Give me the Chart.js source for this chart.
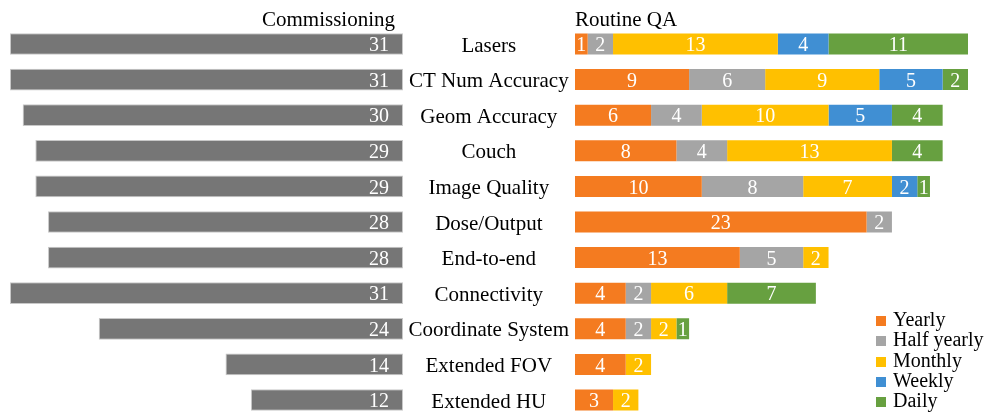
<!DOCTYPE HTML>
<html>

<head>
    <meta charset="UTF-8">
    <title>Commissioning vs Routine QA</title>
    <script src="https://cdn.jsdelivr.net/npm/chart.js"></script>
    <style>
        body { margin: 0; width: 985px; height: 412px; overflow: hidden; background: #fff; position: relative; }
        canvas { position: absolute; top: 0; }
        #leftChart { left: 0; }
        #rightChart { left: 403px; }
        #legend { position: absolute; left: 876px; top: 309px; font: 20px "Liberation Serif", serif; color: #000; }
        #legend div { height: 20.3px; line-height: 20.3px; white-space: nowrap; }
        #legend span { display: inline-block; width: 10px; height: 10px; margin-right: 7px; vertical-align: 0px; }
    </style>
</head>

<body>
    <canvas id="leftChart" width="410" height="450"></canvas>
    <canvas id="rightChart" width="582" height="450"></canvas>
    <div id="legend"></div>
    <script>
        const categories = ['Lasers', 'CT Num Accuracy', 'Geom Accuracy', 'Couch', 'Image Quality', 'Dose/Output',
            'End-to-end', 'Connectivity', 'Coordinate System', 'Extended FOV', 'Extended HU'];
        const commissioning = [31, 31, 30, 29, 29, 28, 28, 31, 24, 14, 12];
        const yearly     = [1, 9, 6, 8, 10, 23, 13, 4, 4, 4, 3];
        const halfYearly = [2, 6, 4, 4, 8, 2, 5, 2, 2, 0, 0];
        const monthly    = [13, 9, 10, 13, 7, 0, 2, 6, 2, 2, 2];
        const weekly     = [4, 5, 5, 0, 2, 0, 0, 0, 0, 0, 0];
        const daily      = [11, 2, 4, 4, 1, 0, 0, 7, 1, 0, 0];
        const maxCount = 31;

        Chart.defaults.font.family = '"Liberation Serif", serif';
        Chart.defaults.color = '#000';

        // white numbers inside the bars
        const valueLabels = {
            id: 'valueLabels',
            afterDatasetsDraw(chart, args, opts) {
                const ctx = chart.ctx;
                ctx.save();
                ctx.font = '20px "Liberation Serif", serif';
                ctx.fillStyle = '#fff';
                ctx.textBaseline = 'middle';
                chart.data.datasets.forEach((ds, i) => {
                    chart.getDatasetMeta(i).data.forEach((bar, j) => {
                        const v = ds.data[j];
                        if (!v) return;
                        if (opts.inset) {
                            ctx.textAlign = 'right';
                            ctx.fillText(v, bar.base - opts.inset, bar.y + 2);
                        } else {
                            ctx.textAlign = 'center';
                            ctx.fillText(v, (bar.x + bar.base) / 2, bar.y + 2);
                        }
                    });
                });
                ctx.restore();
            }
        };

        // panel heading above each half
        const panelTitle = {
            id: 'panelTitle',
            afterDraw(chart, args, opts) {
                const ctx = chart.ctx;
                const area = chart.chartArea;
                ctx.save();
                ctx.font = '21px "Liberation Serif", serif';
                ctx.fillStyle = '#000';
                ctx.textBaseline = 'middle';
                ctx.textAlign = opts.align;
                ctx.fillText(opts.text, opts.align === 'right' ? area.right + opts.dx : area.left + opts.dx, opts.y);
                ctx.restore();
            }
        };

        const leftChart = new Chart(document.getElementById('leftChart'), {
            type: 'bar',
            data: {
                labels: categories,
                datasets: [{
                    label: 'Commissioning',
                    data: commissioning,
                    backgroundColor: '#767676',
                    borderColor: '#c8c8c8',
                    borderWidth: 1,
                    borderSkipped: false,
                    barPercentage: 0.61,
                    categoryPercentage: 1
                }]
            },
            options: {
                indexAxis: 'y',
                responsive: false,
                animation: false,
                devicePixelRatio: 1,
                layout: { padding: { left: 10, right: 7, top: 26.2, bottom: 32.2 } },
                scales: {
                    x: { display: false, min: 0, max: maxCount, reverse: true },
                    y: { display: false }
                },
                plugins: {
                    legend: { display: false },
                    tooltip: { enabled: false },
                    valueLabels: { inset: 14 },
                    panelTitle: { text: 'Commissioning', align: 'right', dx: -8, y: 20 }
                }
            },
            plugins: [valueLabels, panelTitle]
        });

        const series = [
            { label: 'Yearly', data: yearly, color: '#F47B20' },
            { label: 'Half yearly', data: halfYearly, color: '#A5A5A5' },
            { label: 'Monthly', data: monthly, color: '#FFC000' },
            { label: 'Weekly', data: weekly, color: '#408FD3' },
            { label: 'Daily', data: daily, color: '#67A040' }
        ];

        const rightChart = new Chart(document.getElementById('rightChart'), {
            type: 'bar',
            data: {
                labels: categories,
                datasets: series.map(s => ({
                    label: s.label,
                    data: s.data,
                    backgroundColor: s.color,
                    borderWidth: 0,
                    barPercentage: 0.59,
                    categoryPercentage: 1
                }))
            },
            options: {
                indexAxis: 'y',
                responsive: false,
                animation: false,
                devicePixelRatio: 1,
                layout: { padding: { left: 0, right: 17, top: 26.2, bottom: 32.2 } },
                scales: {
                    x: { display: false, stacked: true, min: 0, max: maxCount },
                    y: {
                        stacked: true,
                        grid: { display: false, drawTicks: false },
                        border: { display: false },
                        ticks: { crossAlign: 'center', padding: 6, labelOffset: 2, font: { size: 21 }, color: '#000' },
                        afterFit(scale) { scale.width = 172; }
                    }
                },
                plugins: {
                    legend: { display: false },
                    tooltip: { enabled: false },
                    valueLabels: {},
                    panelTitle: { text: 'Routine QA', align: 'left', dx: 0, y: 20 }
                }
            },
            plugins: [valueLabels, panelTitle]
        });

        // legend built from the stacked datasets
        const legendBox = document.getElementById('legend');
        rightChart.data.datasets.forEach(ds => {
            const row = document.createElement('div');
            const box = document.createElement('span');
            box.style.background = ds.backgroundColor;
            row.appendChild(box);
            row.appendChild(document.createTextNode(ds.label));
            legendBox.appendChild(row);
        });
    </script>
</body>

</html>
